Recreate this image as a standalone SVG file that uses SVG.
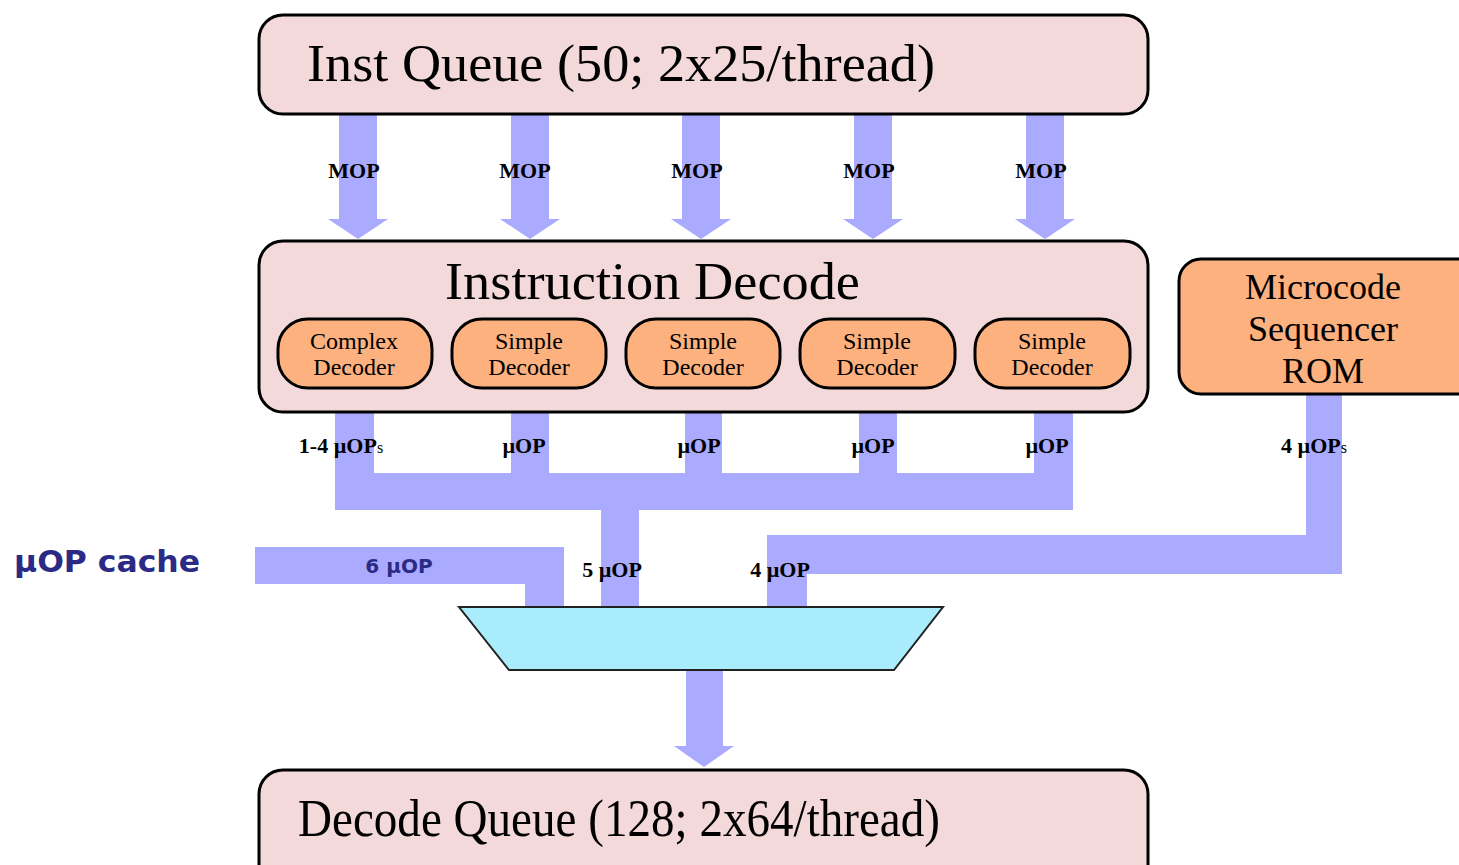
<svg xmlns="http://www.w3.org/2000/svg" width="1459" height="865" viewBox="0 0 1459 865">
<style>
.box{fill:#F3D9D9;stroke:#000;stroke-width:3}
.dec{fill:#FDB17F;stroke:#000;stroke-width:3}
.pipe{fill:#AAAAFF}
.big{font-family:"Liberation Serif",serif;font-size:52px;fill:#000}
.dtext{font-family:"Liberation Serif",serif;font-size:24px;fill:#000;text-anchor:middle}
.mtext{font-family:"Liberation Serif",serif;font-size:36px;fill:#000;text-anchor:middle}
.lbl{font-family:"Liberation Serif",serif;font-size:22px;font-weight:bold;fill:#000;text-anchor:middle}
.sans{font-family:"DejaVu Sans","Liberation Sans",sans-serif;font-weight:bold;fill:#2B2B85}
</style>
<rect width="1459" height="865" fill="#fff"/>
<g id="connectors">
<polygon class="pipe" points="339,114 377,114 377,219 388,219 358,239 328,219 339,219"/>
<polygon class="pipe" points="511,114 549,114 549,219 560,219 530,239 500,219 511,219"/>
<polygon class="pipe" points="682,114 720,114 720,219 731,219 701,239 671,219 682,219"/>
<polygon class="pipe" points="854,114 892,114 892,219 903,219 873,239 843,219 854,219"/>
<polygon class="pipe" points="1026,114 1064,114 1064,219 1075,219 1045,239 1015,219 1026,219"/>
<rect class="pipe" x="335" y="412" width="39" height="98"/>
<rect class="pipe" x="511" y="412" width="38" height="98"/>
<rect class="pipe" x="685" y="412" width="37" height="98"/>
<rect class="pipe" x="859" y="412" width="38" height="98"/>
<rect class="pipe" x="1034" y="412" width="39" height="98"/>
<rect class="pipe" x="335" y="473" width="738" height="37"/>
<rect class="pipe" x="601" y="505" width="38" height="103"/>
<rect class="pipe" x="255" y="547" width="309" height="37"/>
<rect class="pipe" x="525" y="580" width="39" height="28"/>
<rect class="pipe" x="1306" y="394" width="36" height="180"/>
<rect class="pipe" x="767" y="535" width="575" height="39"/>
<rect class="pipe" x="767" y="570" width="40" height="38"/>
<polygon class="pipe" points="686,669 723,669 723,746 734,746 704,767 674,746 686,746"/>
<text class="lbl" x="354" y="178">MOP</text>
<text class="lbl" x="525" y="178">MOP</text>
<text class="lbl" x="697" y="178">MOP</text>
<text class="lbl" x="869" y="178">MOP</text>
<text class="lbl" x="1041" y="178">MOP</text>
<text class="lbl" x="341" y="453">1-4 µOP<tspan font-size="16" font-weight="normal">s</tspan></text>
<text class="lbl" x="524" y="453">µOP</text>
<text class="lbl" x="699" y="453">µOP</text>
<text class="lbl" x="873" y="453">µOP</text>
<text class="lbl" x="1047" y="453">µOP</text>
<text class="lbl" x="1314" y="453">4 µOP<tspan font-size="16" font-weight="normal">s</tspan></text>
<text class="lbl" x="612" y="577">5 µOP</text>
<text class="lbl" x="780" y="577">4 µOP</text>
<text class="sans" x="399" y="573" font-size="20" text-anchor="middle">6 µOP</text>
</g>
<g id="inst-queue">
<rect class="box" x="259" y="15" width="889" height="99" rx="24"/>
<text class="big" x="307" y="81" textLength="628" lengthAdjust="spacingAndGlyphs">Inst Queue (50; 2x25/thread)</text>
</g>
<g id="instruction-decode">
<rect class="box" x="259" y="241" width="889" height="171" rx="24"/>
<text class="big" x="445" y="299" font-size="54" textLength="415" lengthAdjust="spacingAndGlyphs">Instruction Decode</text>
</g>
<g id="complex-decoder">
<rect class="dec" x="278" y="319" width="154" height="69" rx="30"/>
<text class="dtext" x="354" y="349">Complex</text>
<text class="dtext" x="354" y="375">Decoder</text>
</g>
<g id="simple-decoder-1">
<rect class="dec" x="452" y="319" width="154" height="69" rx="30"/>
<text class="dtext" x="529" y="349">Simple</text>
<text class="dtext" x="529" y="375">Decoder</text>
</g>
<g id="simple-decoder-2">
<rect class="dec" x="626" y="319" width="154" height="69" rx="30"/>
<text class="dtext" x="703" y="349">Simple</text>
<text class="dtext" x="703" y="375">Decoder</text>
</g>
<g id="simple-decoder-3">
<rect class="dec" x="800" y="319" width="155" height="69" rx="30"/>
<text class="dtext" x="877" y="349">Simple</text>
<text class="dtext" x="877" y="375">Decoder</text>
</g>
<g id="simple-decoder-4">
<rect class="dec" x="975" y="319" width="155" height="69" rx="30"/>
<text class="dtext" x="1052" y="349">Simple</text>
<text class="dtext" x="1052" y="375">Decoder</text>
</g>
<g id="microcode-rom">
<rect class="dec" x="1179" y="259" width="300" height="135" rx="22"/>
<text class="mtext" x="1323" y="299">Microcode</text>
<text class="mtext" x="1323" y="341">Sequencer</text>
<text class="mtext" x="1323" y="383">ROM</text>
</g>
<g id="uop-cache">
<text class="sans" x="14" y="572" font-size="30" textLength="186" lengthAdjust="spacingAndGlyphs">µOP cache</text>
</g>
<g id="mux">
<polygon points="459,607 943,607 894,670 509,670" fill="#A9EDFD" stroke="#222" stroke-width="2"/>
</g>
<g id="decode-queue">
<rect class="box" x="259" y="770" width="889" height="120" rx="24"/>
<text class="big" x="298" y="836" textLength="642" lengthAdjust="spacingAndGlyphs">Decode Queue (128; 2x64/thread)</text>
</g>
</svg>
